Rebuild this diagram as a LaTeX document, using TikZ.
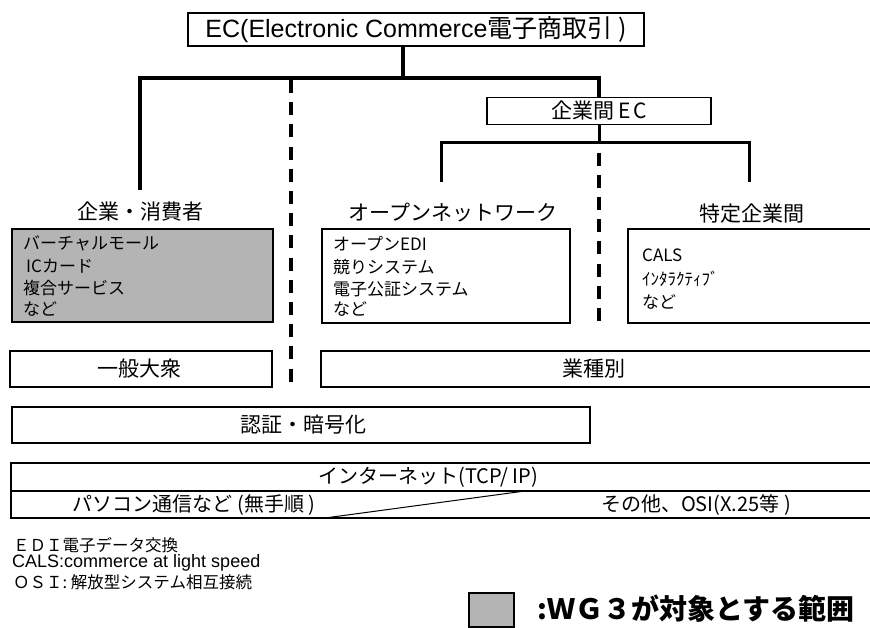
\documentclass[tikz,border=0pt]{standalone}
\usepackage{fontspec}
\setmainfont{Noto Sans CJK JP}
\newfontfamily\arial{Liberation Sans}
\newfontfamily\jp{Noto Sans CJK JP}
\definecolor{wggray}{HTML}{B4B4B4}
\tikzset{
  box/.style={draw=black, line width=1.2pt, rectangle, inner sep=0pt},
  thickline/.style={line width=4pt},
  midline/.style={line width=3pt},
  dashline/.style={line width=4pt, dash pattern=on 13pt off 9.2pt},
  head/.style={font=\fontsize{21}{24}\selectfont, inner sep=0pt},
  item/.style={font=\fontsize{17}{20}\selectfont, anchor=west, inner sep=0pt},
  note/.style={font=\fontsize{16.5}{20}\selectfont, anchor=west, inner sep=0pt},
}
\begin{document}
\begin{tikzpicture}[x=1pt,y=-1pt]
\useasboundingbox (0,0) rectangle (870,628);
% top box
\node[box, minimum width=456pt, minimum height=33pt, font=\fontsize{25}{28}\selectfont] (ec) at (416,29.5)
  {\arial EC(Electronic Commerce\jp 電子商取引 )};
\node[box, minimum width=224pt, minimum height=27pt, font=\fontsize{21}{24}\selectfont] (b2b) at (599,111) {企業間\hspace{4pt}E\hspace{3pt}C};
% tree
\coordinate (bar) at (403,78);
\coordinate (lb) at (140,190);
\draw[thickline] (ec.south -| bar) -- (bar);
\draw[thickline] (lb) -- (lb |- bar) -- (bar -| b2b.north) -- (b2b.north);
\coordinate (bar2) at (599,143);
\coordinate (onb) at (441,182);
\coordinate (spb) at (749,182);
\draw[midline] (b2b.south) -- (bar2);
\draw[midline] (onb) -- (onb |- bar2) -- (spb |- bar2) -- (spb);
% dashed separators
\coordinate (d1t) at (291,80);
\coordinate (d1b) at (291,382);
\coordinate (d2t) at (599,152.7);
\coordinate (d2b) at (599,321.5);
\draw[dashline] (d1t) -- (d1b);
\draw[dashline] (d2t) -- (d2b);
% headings
\node[head] (hbc) at (140,212) {企業・消費者};
\node[head] (hon) at (453,213) {オープンネットワーク};
\node[head] (hsp) at (752,214) {特定企業間};
% boxes of row 1
\draw[box, fill=wggray] (12,229) rectangle (273,322);
\draw[box] (322,229) rectangle (570,323);
\draw[box] (628,229) rectangle (880,323);
\node[item] (bc1) at (23,243) {バーチャルモール};
\node[item] (bc2) at (26,266) {ICカード};
\node[item] (bc3) at (23,288) {複合サービス};
\node[item] (bc4) at (23,309) {など};
\node[item] (on1) at (333,244) {オープンEDI};
\node[item] (on2) at (333,267) {競りシステム};
\node[item] (on3) at (333,289) {電子公証システム};
\node[item] (on4) at (333,309) {など};
\node[item] (sp1) at (642,255) {CALS};
\node[item] (sp2) at (642,279) {ｲﾝﾀﾗｸﾃｨﾌﾞ};
\node[item] (sp3) at (642,302) {など};
% row 2
\draw[box] (10,351) rectangle (272,387);
\node[head] (ippan) at (139,369) {一般大衆};
\draw[box] (321,351) rectangle (880,387);
\node[head] (gyoshu) at (594,369) {業種別};
\draw[box] (12,407) rectangle (590,443);
\node[head] (ninsho) at (303,425) {認証・暗号化};
% network box
\draw[box] (11,463) rectangle (880,518);
\draw[line width=1.2pt] (11,491) -- (880,491);
\node[head, font=\fontsize{20}{24}\selectfont] (inet) at (428,477) {インターネット(TCP/ IP)};
\node[head, font=\fontsize{20}{24}\selectfont] (pc) at (194,505) {パソコン通信など (無手順 )};
\node[head, font=\fontsize{20}{24}\selectfont] (osi) at (696,505) {その他、OSI(X.25等 )};
\coordinate (dg1) at (325,518);
\coordinate (dg2) at (525,491);
\draw[line width=1pt] (dg1) -- (dg2);
% notes
\node[note] (n1) at (13,545) {ＥＤＩ電子データ交換};
\node[note, font=\fontsize{18}{20}\selectfont\arial] (n2) at (12,563) {CALS:commerce at light speed};
\node[note] (n3) at (13,582) {ＯＳＩ: 解放型システム相互接続};
% legend
\draw[box, fill=wggray] (469,593) rectangle (514,627);
\node[anchor=west, inner sep=0pt, font=\fontsize{28}{32}\selectfont\bfseries] (leg) at (537,609) {:ＷＧ３が対象とする範囲};
\end{tikzpicture}
\end{document}
